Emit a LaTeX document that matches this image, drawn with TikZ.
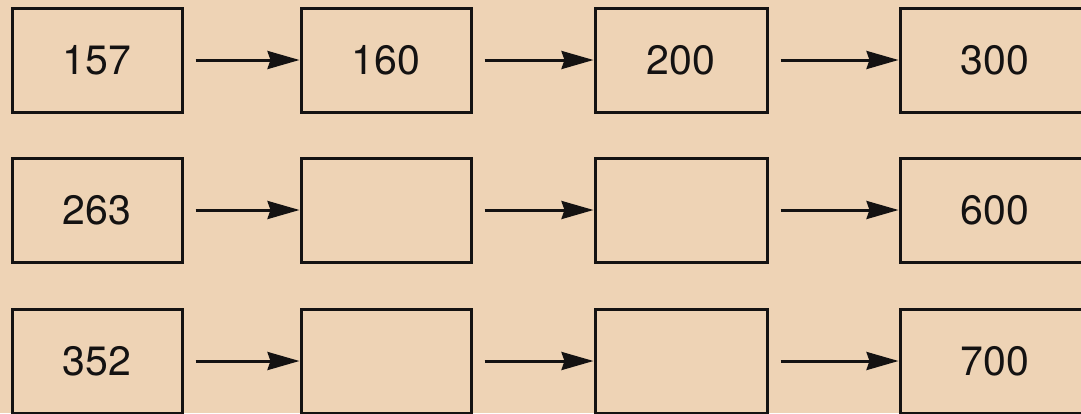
\documentclass[tikz,border=0pt]{standalone}
\usepackage{fontspec}
\setmainfont{TeX Gyre Heros}
\usetikzlibrary{arrows.meta}
\definecolor{paper}{RGB}{238,211,181}
\definecolor{ink}{RGB}{20,18,18}
\begin{document}
\begin{tikzpicture}[x=1pt,y=-1pt,
  numbox/.style={draw=ink, line width=3pt, rectangle, minimum height=104pt,
    text=ink, font=\fontsize{41}{48}\selectfont, inner sep=0pt},
  flow/.style={draw=ink, line width=3pt, shorten <=12pt,
    -{Stealth[length=32pt,width=18pt,inset=3pt]}}]
  \useasboundingbox (0,0) rectangle (1081,413);
  \fill[paper] (0,0) rectangle (1081,413);
  \clip (0,0) rectangle (1081,413);
  % row 1
  \node[numbox, minimum width=170pt] (a1) at (97,60) {157};
  \node[numbox, minimum width=170pt] (b1) at (386,60) {160};
  \node[numbox, minimum width=172pt] (c1) at (681,60) {200};
  \node[numbox, minimum width=190pt] (d1) at (995,60) {300};
  % row 2
  \node[numbox, minimum width=170pt] (a2) at (97,210) {263};
  \node[numbox, minimum width=170pt] (b2) at (386,210) {};
  \node[numbox, minimum width=172pt] (c2) at (681,210) {};
  \node[numbox, minimum width=190pt] (d2) at (995,210) {600};
  % row 3
  \node[numbox, minimum width=170pt] (a3) at (97,361) {352};
  \node[numbox, minimum width=170pt] (b3) at (386,361) {};
  \node[numbox, minimum width=172pt] (c3) at (681,361) {};
  \node[numbox, minimum width=190pt] (d3) at (995,361) {700};
  % connectors
  \foreach \r in {1,2,3} {
    \draw[flow] (a\r) -- (b\r);
    \draw[flow] (b\r) -- (c\r);
    \draw[flow] (c\r) -- (d\r);
  }
\end{tikzpicture}
\end{document}
